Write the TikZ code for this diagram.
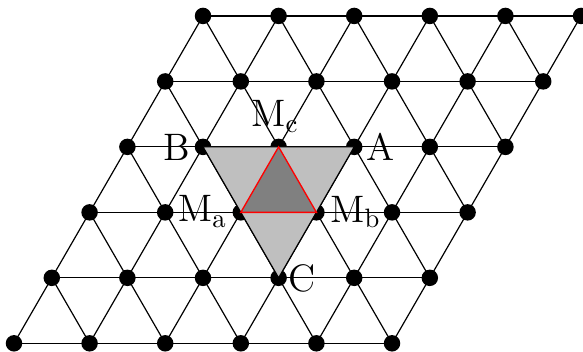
\documentclass[tikz,border=0pt]{standalone}
\begin{document}
\begin{tikzpicture}[
  x=1cm,y=1cm,
  edge/.style={line width=0.45pt},
  dot/.style={circle,fill=black,inner sep=0pt,minimum size=6.2pt},
  lbl/.style={inner sep=0pt,font=\fontsize{14.4}{17}\selectfont},
  outer/.style={fill=black!25,draw=black,line width=0.45pt},
  inner/.style={fill=black!50,draw=red,line width=0.5pt}
]
\useasboundingbox (-0.185,-0.102) rectangle (7.526,4.541);
% lattice points
\foreach \j in {0,...,5}{
  \foreach \i in {0,...,5}{
    \coordinate (p\i-\j) at ({\i+0.5*\j},{\j*sqrt(3)/2});
  }
}
% horizontal edges
\foreach \j in {0,...,5}{
  \foreach \i in {0,...,4}{
    \pgfmathtruncatemacro\ii{\i+1}
    \draw[edge] (p\i-\j) -- (p\ii-\j);
  }
}
% slanted edges
\foreach \j in {0,...,4}{
  \pgfmathtruncatemacro\jj{\j+1}
  \foreach \i in {0,...,5}{
    \draw[edge] (p\i-\j) -- (p\i-\jj);
  }
  \foreach \i in {1,...,5}{
    \pgfmathtruncatemacro\ii{\i-1}
    \draw[edge] (p\i-\j) -- (p\ii-\jj);
  }
}
% dots
\foreach \j in {0,...,5}{
  \foreach \i in {0,...,5}{
    \node[dot] (d\i-\j) at (p\i-\j) {};
  }
}
% triangles
\draw[outer] (p1-3) -- (p3-3) -- (p3-1) -- cycle;
\draw[inner] (p2-2) -- (p3-2) -- (p2-3) -- cycle;
% labels
\node[lbl,anchor=base east] (lB) at ([shift={(-0.170,-0.175)}]p1-3) {B};
\node[lbl,anchor=base west] (lA) at ([shift={(0.155,-0.183)}]p3-3) {A};
\node[lbl,anchor=base west] (lC) at ([shift={(0.130,-0.175)}]p3-1) {C};
\node[lbl,anchor=base east] (lMa) at ([shift={(-0.178,-0.127)}]p2-2) {$\mathrm{M_a}$};
\node[lbl,anchor=base west] (lMb) at ([shift={(0.175,-0.130)}]p3-2) {$\mathrm{M_b}$};
\node[lbl,anchor=base west] (lMc) at ([shift={(-0.37,0.267)}]p2-3) {$\mathrm{M_c}$};
\end{tikzpicture}
\end{document}
